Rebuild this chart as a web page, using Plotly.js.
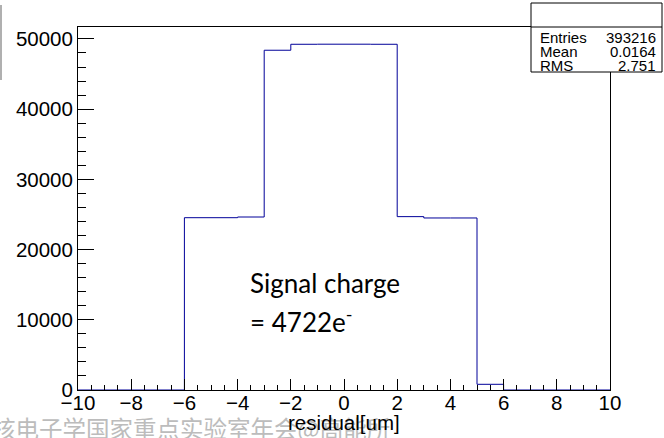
<!DOCTYPE html>
<html>
<head>
<meta charset="utf-8">
<script src="https://cdn.plot.ly/plotly-3.0.1.min.js"></script>
<style>html,body{margin:0;padding:0;background:#fff;}#chart{width:664px;height:438px;}</style>
</head>
<body>
<div id="chart"></div>
<script>
// ---- data ----
const binEdges = [-10,-9,-8,-7,-6,-5,-4,-3,-2,-1,0,1,2,3,4,5,6,7,8,9,10];
const binCounts = [0,0,0,0,24540,24540,24640,48390,49240,49250,49250,49240,24690,24500,24500,810,0,0,0,0];
const xTickVals = [-10,-8,-6,-4,-2,0,2,4,6,8,10];
const yTickVals = [0,10000,20000,30000,40000,50000];
const statNames = ['Entries','Mean','RMS'];
const statValues = ['393216','0.0164','2.751'];
const xTitle = 'residual[um]';
const noteLines = ['Signal charge', '= 4722e<sup>-</sup>'];
const watermark = '核电子学国家重点实验室年会@高能所';

// ---- layout geometry ----
const W = 664, H = 438;
const M = {l: 78, r: 54, t: 27, b: 48};
const PW = W - M.l - M.r, PH = H - M.t - M.b;
const px = x => (x - M.l) / PW;
const py = y => (H - M.b - y) / PH;

const histY = binCounts.concat([binCounts[binCounts.length - 1]]);

const trace = {
  type: 'scatter', mode: 'lines',
  x: binEdges, y: histY,
  line: {shape: 'hv', color: '#000099', width: 1},
  hoverinfo: 'skip', showlegend: false
};

const axisFont = {family: 'Liberation Sans, Arial, sans-serif', size: 20.5, color: '#000'};
const statFont = {family: 'Liberation Sans, Arial, sans-serif', size: 15, color: '#000'};

const annotations = [];
// watermark first so that the axis title is drawn over it
annotations.push({xref: 'paper', yref: 'paper', x: px(-10), y: py(428), xanchor: 'left', yanchor: 'middle',
  text: watermark, showarrow: false, font: {family: 'Noto Sans CJK SC, sans-serif', size: 23.5, color: '#bcbcbc'}});
annotations.push({xref: 'paper', yref: 'paper', x: 0.5, y: py(423), xanchor: 'center', yanchor: 'middle',
  text: xTitle, showarrow: false, font: axisFont});

const statY = [37.5, 51.5, 65.5];
statNames.forEach((n, i) => {
  annotations.push({xref: 'paper', yref: 'paper', x: px(537.5), y: py(statY[i]), xanchor: 'left', yanchor: 'middle',
    text: n, showarrow: false, font: statFont});
  annotations.push({xref: 'paper', yref: 'paper', x: px(658), y: py(statY[i]), xanchor: 'right', yanchor: 'middle',
    text: statValues[i], showarrow: false, font: statFont});
});
const noteY = [283, 320];
noteLines.forEach((t, i) => {
  annotations.push({xref: 'paper', yref: 'paper', x: px(248), y: py(noteY[i]), xanchor: 'left', yanchor: 'middle',
    text: t, showarrow: false, font: {family: 'Lato, Open Sans, sans-serif', size: 26, color: '#000'}});
});

const shapes = [
  {type: 'rect', xref: 'paper', yref: 'paper', x0: px(531), x1: px(662), y0: py(3), y1: py(72),
    line: {color: '#000', width: 1}, fillcolor: '#fff', layer: 'above'},
  {type: 'line', xref: 'paper', yref: 'paper', x0: px(531), x1: px(662), y0: py(27), y1: py(27),
    line: {color: '#000', width: 1}, layer: 'above'},
  {type: 'line', xref: 'paper', yref: 'paper', x0: px(1), x1: px(1), y0: py(5), y1: py(80),
    line: {color: '#b0b0b0', width: 2}, layer: 'above'}
];

const layout = {
  width: W, height: H,
  margin: {l: M.l, r: M.r, t: M.t, b: M.b, pad: 0},
  paper_bgcolor: '#fff', plot_bgcolor: '#fff',
  showlegend: false,
  xaxis: {
    range: [-10, 10], tickmode: 'array', tickvals: xTickVals,
    ticks: 'inside', ticklen: 11, tickwidth: 1, tickcolor: '#000',
    ticklabelstandoff: -6,
    minor: {dtick: 0.5, tick0: -10, ticks: 'inside', ticklen: 5.5, tickwidth: 1, tickcolor: '#000', showgrid: false},
    showline: true, linecolor: '#000', linewidth: 1, mirror: true,
    showgrid: false, zeroline: false, tickfont: axisFont
  },
  yaxis: {
    range: [0, 51700], tickmode: 'array', tickvals: yTickVals, tickformat: 'd',
    ticks: 'inside', ticklen: 16, tickwidth: 1, tickcolor: '#000',
    minor: {dtick: 2000, tick0: 0, ticks: 'inside', ticklen: 8, tickwidth: 1, tickcolor: '#000', showgrid: false},
    showline: true, linecolor: '#000', linewidth: 1, mirror: true,
    showgrid: false, zeroline: false, tickfont: axisFont
  },
  annotations: annotations,
  shapes: shapes
};

Plotly.newPlot('chart', [trace], layout, {staticPlot: true, displayModeBar: false});
</script>
</body>
</html>
